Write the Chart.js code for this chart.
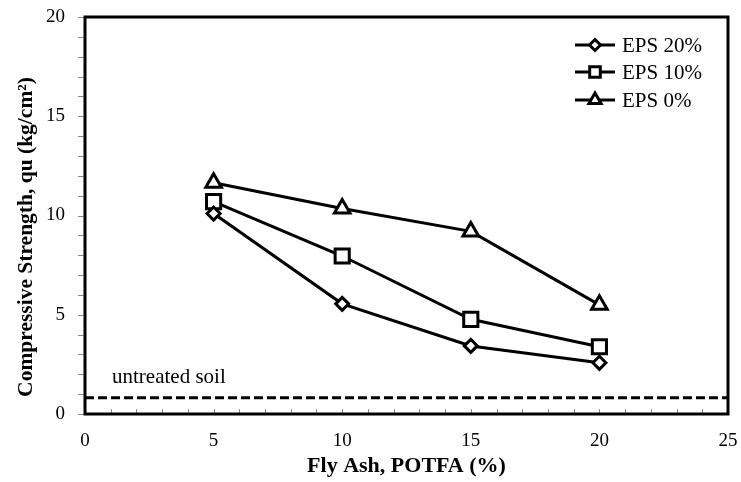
<!DOCTYPE html>
<html>
<head>
<meta charset="utf-8">
<script src="https://cdn.jsdelivr.net/npm/chart.js@4/dist/chart.umd.min.js"></script>
<style>
  html, body { margin: 0; padding: 0; background: #fff; }
  #wrap { width: 741px; height: 482px; position: relative; }
</style>
</head>
<body>
<div id="wrap"><canvas id="qChart"></canvas></div>
<script>
// values
var flyAsh = [5, 10, 15, 20];
var eps20 = [10.1, 5.55, 3.43, 2.58];
var eps10 = [10.7, 7.96, 4.77, 3.39];
var eps0 = [11.65, 10.35, 9.2, 5.5];
var untreated = 0.82;
var xTicks = [0, 5, 10, 15, 20, 25];
var yTicks = [0, 5, 10, 15, 20];

var serif = "'Liberation Serif', 'Times New Roman', serif";

function pts(arr) {
    return flyAsh.map(function (x, i) { return { x: x, y: arr[i] }; });
}

function series(label, arr, style, radius) {
    return {
        label: label,
        data: pts(arr),
        borderColor: "#000",
        borderWidth: 3,
        pointStyle: style,
        pointRadius: radius,
        pointHoverRadius: radius,
        pointBackgroundColor: "#fff",
        pointBorderColor: "#000",
        pointBorderWidth: 3,
        fill: false,
        tension: 0
    };
}

// frame, tick marks, legend inside the plot and the text labels
var extras = {
    id: "extras",
    afterDraw: function (chart) {
        var ctx = chart.ctx;
        var a = chart.chartArea;
        var xs = chart.scales.x, ys = chart.scales.y;
        ctx.save();

        ctx.strokeStyle = "#888";
        ctx.lineWidth = 1;
        // small ticks pointing up from the bottom axis
        xs.ticks.forEach(function (t) {
            var px = Math.round(xs.getPixelForValue(t.value)) + 0.5;
            ctx.beginPath();
            ctx.moveTo(px, a.bottom);
            ctx.lineTo(px, a.bottom - 5);
            ctx.stroke();
        });
        // ticks pointing out of the left axis
        ys.ticks.forEach(function (t) {
            var py = Math.round(ys.getPixelForValue(t.value)) + 0.5;
            ctx.beginPath();
            ctx.moveTo(a.left, py);
            ctx.lineTo(a.left - 7, py);
            ctx.stroke();
        });

        ctx.strokeStyle = "#000";
        ctx.lineWidth = 3;
        ctx.strokeRect(a.left, a.top, a.right - a.left, a.bottom - a.top);

        // untreated soil label
        ctx.fillStyle = "#000";
        ctx.font = "21px " + serif;
        ctx.textAlign = "left";
        ctx.textBaseline = "alphabetic";
        ctx.fillText("untreated soil", xs.getPixelForValue(1.05), ys.getPixelForValue(1.56));

        // y title
        ctx.save();
        ctx.font = "bold 21.5px " + serif;
        ctx.textAlign = "center";
        ctx.textBaseline = "middle";
        ctx.translate(26, 237);
        ctx.rotate(-Math.PI / 2);
        ctx.fillText("Compressive Strength, qu (kg/cm²)", 0, 0);
        ctx.restore();

        // legend
        var rows = [45, 72, 100];
        var lr = { rectRot: 5.5, rect: 7.5, triangle: 7 };
        chart.data.datasets.slice(0, 3).forEach(function (ds, i) {
            var y = rows[i];
            ctx.strokeStyle = "#000";
            ctx.lineWidth = 3;
            ctx.beginPath();
            ctx.moveTo(575, y);
            ctx.lineTo(615, y);
            ctx.stroke();
            ctx.fillStyle = "#fff";
            ctx.lineWidth = 3;
            Chart.helpers.drawPoint(ctx, { pointStyle: ds.pointStyle, radius: lr[ds.pointStyle], rotation: 0, borderWidth: 3 }, 595, y);
            ctx.fillStyle = "#000";
            ctx.font = "21px " + serif;
            ctx.textAlign = "left";
            ctx.textBaseline = "middle";
            ctx.fillText(ds.label, 622, y + 1);
        });
        ctx.restore();
    }
};

new Chart("qChart", {
    type: "line",
    data: {
        datasets: [
            series("EPS 20%", eps20, "rectRot", 6.5),
            series("EPS 10%", eps10, "rect", 10),
            series("EPS 0%", eps0, "triangle", 9)
        ].concat([{
            label: "untreated soil",
            data: [{ x: 0, y: untreated }, { x: 25, y: untreated }],
            borderColor: "#000",
            borderWidth: 3,
            borderDash: [9, 4],
            pointRadius: 0,
            fill: false
        }])
    },
    options: {
        responsive: true,
        maintainAspectRatio: false,
        animation: false,
        layout: { padding: { top: 17, right: 9, left: 0, bottom: 0 } },
        plugins: {
            legend: { display: false },
            tooltip: { enabled: false }
        },
        scales: {
            x: {
                type: "linear",
                min: 0,
                max: 25,
                afterFit: function (s) { s.height = 68; },
                afterBuildTicks: function (s) {
                    s.ticks = [];
                    for (var v = 0; v <= 25; v++) s.ticks.push({ value: v });
                },
                ticks: {
                    autoSkip: false,
                    maxRotation: 0,
                    padding: 0,
                    color: "#000",
                    font: { family: serif, size: 19 },
                    callback: function (v) { return xTicks.indexOf(v) >= 0 ? String(v) : ""; }
                },
                grid: { display: false, drawTicks: true, tickLength: 16 },
                border: { display: false },
                title: {
                    display: true,
                    text: "Fly Ash, POTFA (%)",
                    color: "#000",
                    font: { family: serif, size: 22, weight: "bold" },
                    padding: { top: 0, bottom: 2 }
                }
            },
            y: {
                min: 0,
                max: 20,
                afterFit: function (s) { s.width = 85; },
                afterBuildTicks: function (s) {
                    s.ticks = [];
                    for (var v = 0; v <= 20; v++) s.ticks.push({ value: v });
                },
                ticks: {
                    autoSkip: false,
                    padding: 0,
                    color: "#000",
                    font: { family: serif, size: 19 },
                    callback: function (v) { return yTicks.indexOf(v) >= 0 ? String(v) : ""; }
                },
                grid: { display: false, drawTicks: true, tickLength: 20 },
                border: { display: false }
            }
        }
    },
    plugins: [extras]
});
</script>
</body>
</html>
